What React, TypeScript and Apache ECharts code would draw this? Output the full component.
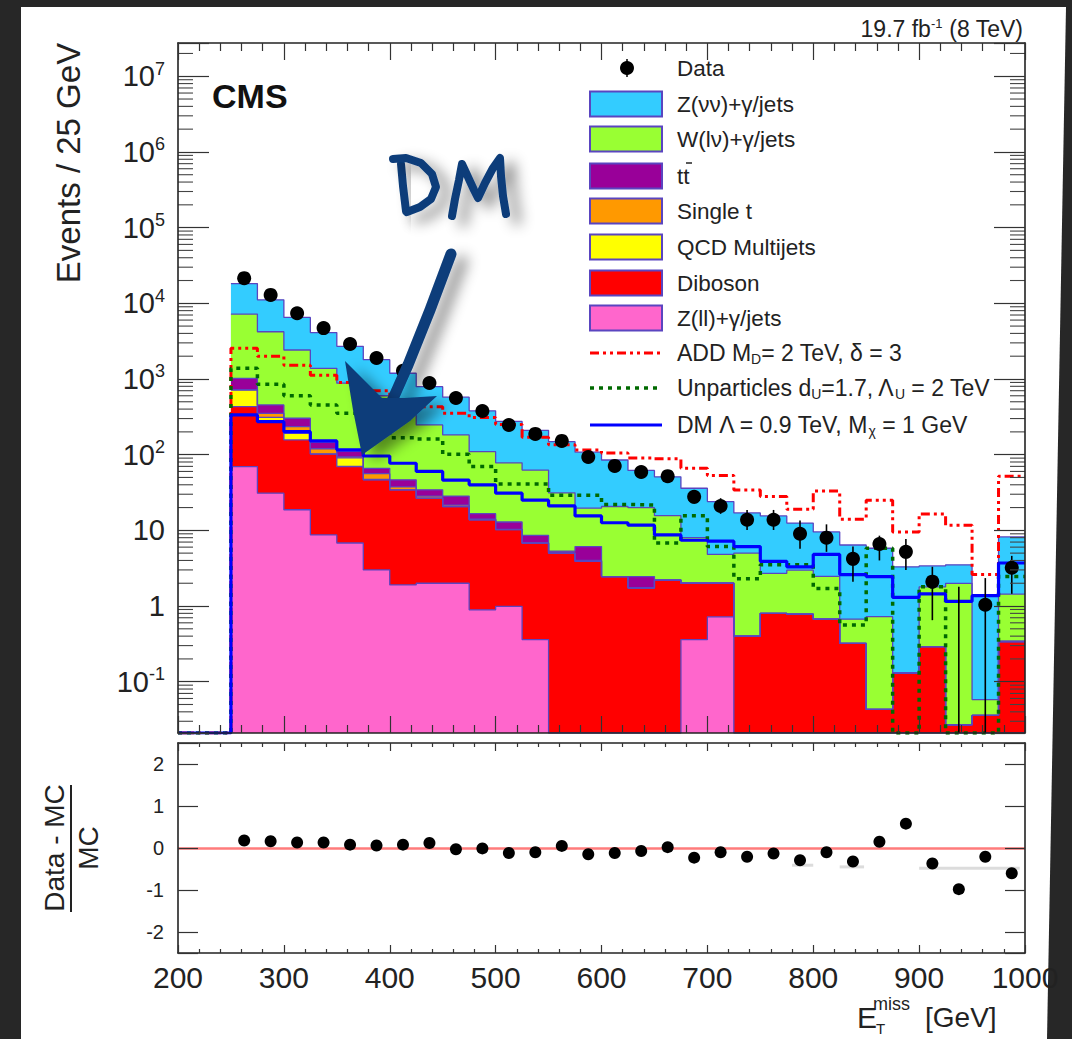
import React, { useEffect, useRef } from "react";
import * as echarts from "echarts";

// ---------- binning (GeV) ----------
const binLow = [250, 275, 300, 325, 350, 375, 400, 425, 450, 475, 500, 525, 550, 575, 600, 625, 650, 675, 700, 725, 750, 775, 800, 825, 850, 875, 900, 925, 950, 975];
const BIN_WIDTH = 25;

// ---------- observed data ----------
const dataEvents = [21500, 12900, 7400, 4700, 2900, 1890, 1280, 885, 561, 378, 247, 188, 152, 93, 71, 59, 52, 27.7, 21, 13.8, 13.8, 9.0, 8.0, 4.2, 6.6, 5.2, 2.1, 0, 1.04, 3.2];
const dataErrUp = [147, 114, 86, 69, 54, 43, 36, 30, 24, 19, 16, 14, 12, 10, 8.5, 7.7, 7.2, 6.3, 5.6, 4.8, 4.8, 4.5, 4.0, 1.9, 1.9, 2.5, 1.2, 1.8, 1.3, 1.4];
const dataErrDown = [147, 114, 86, 69, 54, 43, 36, 30, 24, 19, 16, 14, 12, 10, 8.5, 7.7, 7.2, 5.2, 4.5, 3.7, 3.7, 3.3, 2.8, 2.1, 2.6, 2.2, 1.45, 0, 1.04, 1.75];
const dataMinusMcOverMc = [0.18, 0.16, 0.13, 0.13, 0.08, 0.06, 0.08, 0.12, -0.03, -0.01, -0.12, -0.10, 0.05, -0.15, -0.12, -0.07, 0.02, -0.23, -0.10, -0.21, -0.13, -0.29, -0.10, -0.32, 0.15, 0.58, -0.37, -0.98, -0.21, -0.60];

// ---------- stacked backgrounds (bottom of stack first) ----------
const zllJets = [69.6, 31, 18.7, 8.7, 6.8, 3.0, 1.9, 2.0, 2.0, 0.89, 0.99, 0.36, 0, 0, 0, 0, 0, 0.36, 0.72, 0, 0, 0, 0, 0, 0, 0, 0, 0, 0, 0];
const diboson = [362, 251, 138, 93, 63, 43.5, 32.4, 24.6, 18.6, 12.9, 9.2, 6.4, 5.0, 3.9, 2.45, 1.73, 2.2, 1.64, 1.28, 0.40, 0.8, 0.78, 0.67, 0.32, 0.043, 0.13, 0.29, 0.027, 0.036, 0.34];
const qcdMultijets = [284, 28, 35, 1, 21, 0.5, 0, 0, 0, 0, 0, 0, 0, 0, 0, 0, 0, 0, 0, 0, 0, 0, 0, 0, 0, 0, 0, 0, 0, 0];
const singleTop = [8, 42, 43, 17, 2.4, 9, 3.2, 1.8, 1.0, 0.3, 0.1, 0.1, 0, 0.1, 0, 0.02, 0, 0, 0, 0, 0, 0, 0, 0, 0, 0, 0, 0, 0, 0];
const ttbar = [297, 102, 68, 26, 17, 10, 9, 5.9, 6.8, 2.5, 2.6, 1.7, 0.3, 2.1, 0, 0.7, 0, 0, 0, 0, 0, 0, 0, 0, 0, 0, 0, 0, 0, 0];
const wLnuJets = [6189, 3756, 2112, 1238, 770, 534, 344, 213, 154, 93, 65, 54, 26, 13.5, 18.2, 17.5, 13.4, 6, 2.8, 4.6, 1.9, 2.2, 1.8, 0.35, 0.68, 0, 1.5, 1.97, 0.022, 1.1];
const zNuNuJets = [10990, 6890, 4085, 2716, 1820, 1200, 800, 543, 393, 270, 197, 147, 117, 88.4, 64.4, 42, 35.4, 28, 19.2, 12, 12.8, 9.5, 7.05, 5.73, 5.08, 3.17, 1.6, 1.5, 1.34, 6.75];

// ---------- signal hypotheses ----------
const addSignal = [2550, 1990, 1520, 1120, 900, 700, 520, 430, 352, 310, 250, 170, 135, 115, 105, 90, 88, 66, 53, 34, 28, 19, 33, 14, 25, 9.5, 16.5, 11.7, 2.6, 52];
const unparticleSignal = [1384, 850, 600, 454, 352, 250, 167, 161, 101, 70, 41, 41, 29, 29, 22, 21.6, 6.8, 15.6, 6.1, 2.3, 3.5, 3.5, 1.7, 0.56, 5.8, 0, 1.8, 0, 0, 2.45];
const dmSignal = [335, 273, 201, 152, 116, 96, 77, 60, 46, 40, 31, 25, 21, 15.5, 12.6, 11.7, 8.7, 7.4, 7.2, 6.1, 3.9, 3.3, 4.8, 2.6, 2.45, 1.3, 1.45, 1.15, 1.37, 3.7];

// ---------- faint bands in ratio panel ----------
const ratioBandX0 = [780, 825, 900];
const ratioBandX1 = [800, 848, 995];
const ratioBandY = [-0.41, -0.45, -0.48];

// ---------- axis ranges ----------
const X_MIN = 200;
const X_MAX = 1000;
const Y_MIN = 0.021;
const Y_MAX = 2.75e7;
const R_MIN = -2.5;
const R_MAX = 2.5;

const FONT = "'Liberation Sans', Arial, Helvetica, sans-serif";
const OUTLINE = "#5a45c0";
const TEXT = "#222222";

const stackDefs = [
  { name: "Z(ll)+γ/jets", vals: zllJets, color: "#ff66cc" },
  { name: "Diboson", vals: diboson, color: "#ff0000" },
  { name: "QCD Multijets", vals: qcdMultijets, color: "#ffff00" },
  { name: "Single t", vals: singleTop, color: "#ff9900" },
  { name: "tt", vals: ttbar, color: "#990099" },
  { name: "W(lν)+γ/jets", vals: wLnuJets, color: "#99ff33" },
  { name: "Z(νν)+γ/jets", vals: zNuNuJets, color: "#33ccff" },
];

function clampLog(v: number) {
  return v > Y_MIN ? v : Y_MIN;
}

function stepData(vals: number[], fromAxisStart: boolean) {
  const pts: number[][] = [];
  if (fromAxisStart) pts.push([X_MIN, Y_MIN]);
  vals.forEach((v, i) => pts.push([binLow[i], clampLog(v)]));
  pts.push([binLow[binLow.length - 1] + BIN_WIDTH, clampLog(vals[vals.length - 1])]);
  return pts;
}

function buildOption() {
  const cumulative: number[][] = [];
  stackDefs.forEach((d, k) => {
    cumulative.push(d.vals.map((v, i) => v + (k > 0 ? cumulative[k - 1][i] : 0)));
  });
  const centers = binLow.map((b) => b + BIN_WIDTH / 2);

  const tickStyle = { color: "#333", width: 1.2 };
  const lineStyle = { color: "#222", width: 1.6 };

  const xAx = (gridIndex: number, position: string, labels: boolean, major: number, minor: number) => ({
    type: "value",
    gridIndex,
    position,
    min: X_MIN,
    max: X_MAX,
    interval: 100,
    z: 10,
    axisLine: { show: true, onZero: false, lineStyle },
    axisTick: { show: true, inside: true, length: major, lineStyle: tickStyle },
    minorTick: { show: true, splitNumber: 5, length: minor, lineStyle: tickStyle },
    splitLine: { show: false },
    minorSplitLine: { show: false },
    axisLabel: labels
      ? { show: true, margin: 9, fontSize: 30, fontFamily: FONT, color: TEXT, formatter: (v: number) => String(v) }
      : { show: false },
  });

  const logLabel = (v: number) => {
    const l = Math.log10(v);
    const k = Math.round(l);
    if (Math.abs(l - k) > 1e-6) return "";
    if (k === 0) return "{b|1}";
    if (k === 1) return "{b|10}";
    return "{b|10}{s|" + k + "}";
  };

  const logAx = (position: string, labels: boolean) => ({
    type: "log",
    logBase: 10,
    gridIndex: 0,
    position,
    min: Y_MIN,
    max: Y_MAX,
    splitNumber: 10,
    z: 10,
    axisLine: { show: true, onZero: false, lineStyle },
    axisTick: { show: true, inside: true, length: 31, lineStyle: tickStyle },
    splitLine: { show: false },
    axisLabel: labels
      ? {
          show: true,
          margin: 13,
          formatter: logLabel,
          rich: {
            b: { fontSize: 29, fontFamily: FONT, color: TEXT },
            s: { fontSize: 18, fontFamily: FONT, color: TEXT, padding: [0, 0, 15, 0] },
          },
        }
      : { show: false },
  });

  const ratioAx = (position: string, labels: boolean) => ({
    type: "value",
    gridIndex: 1,
    position,
    min: R_MIN,
    max: R_MAX,
    splitNumber: 5,
    z: 10,
    axisLine: { show: true, onZero: false, lineStyle },
    axisTick: { show: true, inside: true, length: 20, lineStyle: tickStyle },
    splitLine: { show: false },
    axisLabel: labels
      ? {
          show: true,
          margin: 14,
          fontSize: 20,
          fontFamily: FONT,
          color: TEXT,
          formatter: (v: number) => (Math.abs(v - Math.round(v)) < 1e-9 ? String(Math.round(v)) : ""),
        }
      : { show: false },
  });

  const series: any[] = [];

  for (let k = stackDefs.length - 1; k >= 0; k--) {
    series.push({
      type: "line",
      name: stackDefs[k].name,
      xAxisIndex: 0,
      yAxisIndex: 0,
      step: "end",
      symbol: "none",
      data: stepData(cumulative[k], false),
      lineStyle: { color: OUTLINE, width: 1.3 },
      areaStyle: { color: stackDefs[k].color, opacity: 1, origin: "start" },
      z: 2,
      silent: true,
    });
  }

  series.push({
    type: "line",
    name: "ADD",
    xAxisIndex: 0,
    yAxisIndex: 0,
    step: "end",
    symbol: "none",
    data: stepData(addSignal, true),
    lineStyle: { color: "#ff0000", width: 3, type: [9, 4, 3, 4, 3, 4] },
    z: 3,
  });
  series.push({
    type: "line",
    name: "Unparticles",
    xAxisIndex: 0,
    yAxisIndex: 0,
    step: "end",
    symbol: "none",
    data: stepData(unparticleSignal, true),
    lineStyle: { color: "#006a00", width: 3.5, type: [4, 5] },
    z: 3,
  });
  series.push({
    type: "line",
    name: "DM",
    xAxisIndex: 0,
    yAxisIndex: 0,
    step: "end",
    symbol: "none",
    data: stepData(dmSignal, true),
    lineStyle: { color: "#0000ff", width: 3.2 },
    z: 3,
  });

  const minorVals: number[][] = [];
  for (let k = -2; k <= 7; k++) {
    for (let m = 2; m <= 9; m++) {
      const v = m * Math.pow(10, k);
      if (v > Y_MIN && v < Y_MAX) minorVals.push([X_MIN, v]);
    }
  }
  series.push({
    type: "custom",
    xAxisIndex: 0,
    yAxisIndex: 0,
    silent: true,
    z: 9,
    encode: { x: 0, y: 1 },
    data: minorVals,
    renderItem: (_p: any, api: any) => {
      const v = api.value(1);
      const l = api.coord([X_MIN, v]);
      const r = api.coord([X_MAX, v]);
      return {
        type: "group",
        children: [
          { type: "line", shape: { x1: l[0], y1: l[1], x2: l[0] + 15, y2: l[1] }, style: { stroke: "#444", lineWidth: 1.1 } },
          { type: "line", shape: { x1: r[0] - 15, y1: r[1], x2: r[0], y2: r[1] }, style: { stroke: "#444", lineWidth: 1.1 } },
        ],
      };
    },
  });

  series.push({
    type: "custom",
    xAxisIndex: 0,
    yAxisIndex: 0,
    silent: true,
    z: 5,
    encode: { x: 0, y: [1, 2] },
    data: centers.map((c, i) => [c, clampLog(dataEvents[i] - dataErrDown[i]), dataEvents[i] + dataErrUp[i]]),
    renderItem: (_p: any, api: any) => {
      const a = api.coord([api.value(0), api.value(1)]);
      const b = api.coord([api.value(0), api.value(2)]);
      return { type: "line", shape: { x1: a[0], y1: a[1], x2: b[0], y2: b[1] }, style: { stroke: "#000", lineWidth: 1.6 } };
    },
  });

  series.push({
    type: "scatter",
    name: "Data",
    xAxisIndex: 0,
    yAxisIndex: 0,
    symbol: "circle",
    symbolSize: 14,
    itemStyle: { color: "#000", opacity: 1 },
    data: centers.map((c, i) => [c, dataEvents[i]]).filter((p) => p[1] > 0),
    z: 6,
  });

  // ratio panel: reference line at zero
  series.push({
    type: "scatter",
    xAxisIndex: 2,
    yAxisIndex: 2,
    data: [],
    z: 2,
    silent: true,
    markLine: {
      silent: true,
      symbol: "none",
      animation: false,
      label: { show: false },
      lineStyle: { color: "rgba(255,90,90,0.8)", width: 2.5, type: "solid" },
      data: [{ yAxis: 0 }],
    },
  });
  series.push({
    type: "custom",
    xAxisIndex: 2,
    yAxisIndex: 2,
    silent: true,
    z: 2,
    encode: { x: [0, 1], y: 2 },
    data: ratioBandX0.map((x0, i) => [x0, ratioBandX1[i], ratioBandY[i]]),
    renderItem: (_p: any, api: any) => {
      const a = api.coord([api.value(0), api.value(2)]);
      const b = api.coord([api.value(1), api.value(2)]);
      return { type: "line", shape: { x1: a[0], y1: a[1], x2: b[0], y2: b[1] }, style: { stroke: "#dcdcdc", lineWidth: 3 } };
    },
  });
  series.push({
    type: "scatter",
    xAxisIndex: 2,
    yAxisIndex: 2,
    symbol: "circle",
    symbolSize: 12,
    itemStyle: { color: "#000", opacity: 1 },
    data: centers.map((c, i) => [c, dataMinusMcOverMc[i]]),
    z: 6,
  });

  // ---------- graphic ----------
  const g: any[] = [];
  g.push({ type: "polygon", z: -100, silent: true, shape: { points: [[21, 7], [1066, 7], [1047, 1039], [21, 1039]] }, style: { fill: "#ffffff" } });

  const txt = (x: number, y: number, text: string, fontSize: number, extra: any = {}, elExtra: any = {}) => ({
    type: "text",
    x,
    y,
    z: 50,
    silent: true,
    ...elExtra,
    style: { text, fontSize, fontFamily: FONT, fill: TEXT, align: "left", verticalAlign: "middle", ...extra },
  });

  g.push(txt(212, 96, "CMS", 34, { fontWeight: "bold", fill: "#111" }));
  g.push({
    type: "text",
    x: 1023,
    y: 29,
    z: 50,
    silent: true,
    style: {
      text: "{a|19.7 fb}{s|-1}{a| (8 TeV)}",
      align: "right",
      verticalAlign: "middle",
      rich: {
        a: { fontSize: 23, fontFamily: FONT, fill: TEXT },
        s: { fontSize: 13, fontFamily: FONT, fill: TEXT, padding: [0, 0, 12, 0] },
      },
    },
  });
  g.push(txt(68, 163, "Events / 25 GeV", 33, { align: "center" }, { rotation: Math.PI / 2 }));
  g.push(txt(54, 848, "Data - MC", 28, { align: "center" }, { rotation: Math.PI / 2 }));
  g.push({ type: "line", z: 50, silent: true, shape: { x1: 71, y1: 785, x2: 71, y2: 912 }, style: { stroke: TEXT, lineWidth: 2 } });
  g.push(txt(88, 848, "MC", 28, { align: "center" }, { rotation: Math.PI / 2 }));

  g.push(txt(857, 1017, "E", 30));
  g.push(txt(873, 1004, "miss", 18));
  g.push(txt(876, 1028, "T", 15));
  g.push(txt(925, 1017, "[GeV]", 28));

  // legend
  const LX0 = 590;
  const LX1 = 662;
  const LT = 677;
  const LFS = 22.5;
  const rows = [68, 104, 139, 176, 211, 247, 283, 318, 353, 388, 425];
  g.push({ type: "circle", z: 50, silent: true, shape: { cx: 627, cy: rows[0], r: 7 }, style: { fill: "#000" } });
  g.push({ type: "line", z: 50, silent: true, shape: { x1: 627, y1: rows[0] - 9, x2: 627, y2: rows[0] + 9 }, style: { stroke: "#000", lineWidth: 1.5 } });
  g.push(txt(LT, rows[0], "Data", LFS));
  const fillRows = [
    { label: "Z(νν)+γ/jets", def: 6 },
    { label: "W(lν)+γ/jets", def: 5 },
    { label: "tt", def: 4 },
    { label: "Single t", def: 3 },
    { label: "QCD Multijets", def: 2 },
    { label: "Diboson", def: 1 },
    { label: "Z(ll)+γ/jets", def: 0 },
  ];
  fillRows.forEach((r, i) => {
    const y = rows[i + 1];
    g.push({
      type: "rect",
      z: 50,
      silent: true,
      shape: { x: LX0, y: y - 12.5, width: LX1 - LX0, height: 25 },
      style: { fill: stackDefs[r.def].color, stroke: OUTLINE, lineWidth: 2 },
    });
    g.push(txt(LT, y, r.label, LFS));
  });
  g.push({ type: "line", z: 50, silent: true, shape: { x1: 686, y1: rows[3] - 13, x2: 692, y2: rows[3] - 13 }, style: { stroke: TEXT, lineWidth: 1.5 } });

  const rich = {
    a: { fontSize: 23, fontFamily: FONT, fill: TEXT },
    d: { fontSize: 14, fontFamily: FONT, fill: TEXT, padding: [12, 0, 0, 0] },
  };
  g.push({ type: "line", z: 50, silent: true, shape: { x1: LX0, y1: rows[8], x2: LX1, y2: rows[8] }, style: { stroke: "#ff0000", lineWidth: 3, lineDash: [9, 4, 3, 4, 3, 4] } });
  g.push({ type: "text", x: LT, y: rows[8], z: 50, silent: true, style: { text: "{a|ADD M}{d|D}{a|= 2 TeV, δ = 3}", verticalAlign: "middle", rich } });
  g.push({ type: "line", z: 50, silent: true, shape: { x1: LX0, y1: rows[9], x2: LX1, y2: rows[9] }, style: { stroke: "#006a00", lineWidth: 3.5, lineDash: [4, 5] } });
  g.push({ type: "text", x: LT, y: rows[9], z: 50, silent: true, style: { text: "{a|Unparticles d}{d|U}{a|=1.7, Λ}{d|U}{a| = 2 TeV}", verticalAlign: "middle", rich } });
  g.push({ type: "line", z: 50, silent: true, shape: { x1: LX0, y1: rows[10], x2: LX1, y2: rows[10] }, style: { stroke: "#0000ff", lineWidth: 3.2 } });
  g.push({ type: "text", x: LT, y: rows[10], z: 50, silent: true, style: { text: "{a|DM Λ = 0.9 TeV, M}{d|χ}{a| = 1 GeV}", verticalAlign: "middle", rich } });

  // hand-drawn "DM" annotation with arrow
  const ink = "#0c3d7a";
  const shadow = { shadowBlur: 14, shadowColor: "rgba(0,0,0,0.45)", shadowOffsetX: 11, shadowOffsetY: 7 };
  const stroke = (points: number[][], w: number) => ({
    type: "polyline",
    z: 60,
    silent: true,
    shape: { points },
    style: { stroke: ink, lineWidth: w, lineCap: "round", lineJoin: "round", fill: "none", ...shadow },
  });
  g.push(stroke([[401, 164], [403, 186], [406, 211]], 8));
  g.push(stroke([[393, 159], [406, 158], [421, 163], [432, 174], [436, 187], [431, 199], [420, 207], [407, 212]], 8));
  g.push(stroke([[452, 216], [455, 199], [459, 180], [462, 164], [468, 177], [474, 190], [478, 198], [485, 183], [493, 168], [500, 158], [501, 176], [503, 196], [506, 214]], 8));
  g.push(stroke([[451, 254], [430, 310], [408, 365], [388, 410]], 11));
  g.push({
    type: "polygon",
    z: 60,
    silent: true,
    shape: { points: [[345, 361], [362, 378], [382, 398], [404, 398], [437, 396], [410, 421], [362, 455], [353, 410]] },
    style: { fill: ink, ...shadow },
  });

  return {
    animation: false,
    backgroundColor: "#272727",
    grid: [
      { left: 178, top: 43, width: 847, height: 690 },
      { left: 178, top: 743, width: 847, height: 210 },
    ],
    xAxis: [xAx(0, "bottom", false, 17, 8), xAx(0, "top", false, 17, 8), xAx(1, "bottom", true, 8, 4), xAx(1, "top", false, 8, 4)],
    yAxis: [logAx("left", true), logAx("right", false), ratioAx("left", true), ratioAx("right", false)],
    series,
    graphic: g,
  };
}

export default function App() {
  const ref = useRef<HTMLDivElement>(null);
  useEffect(() => {
    document.body.style.margin = "0";
    const chart = echarts.init(ref.current as HTMLDivElement, null, { renderer: "svg" });
    chart.setOption(buildOption() as any);
    return () => chart.dispose();
  }, []);
  return <div ref={ref} style={{ width: 1072, height: 1039 }} />;
}
